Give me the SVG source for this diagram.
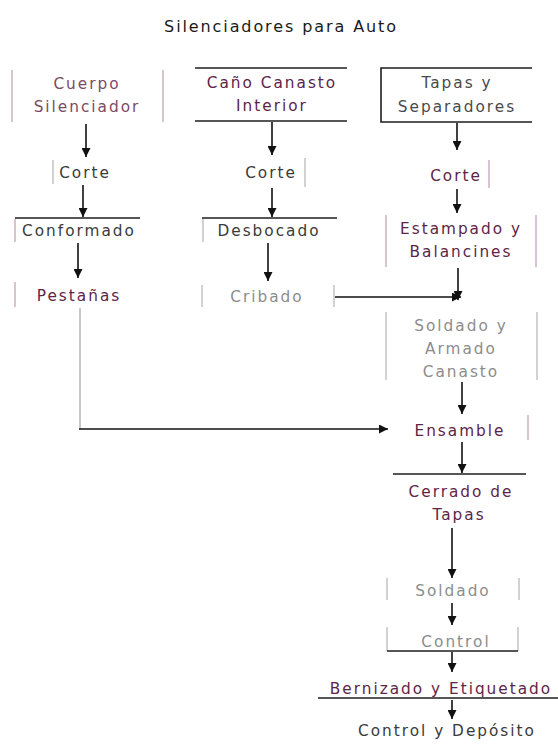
<svg xmlns="http://www.w3.org/2000/svg" width="558" height="744" viewBox="0 0 558 744">
  <defs>
    <marker id="arrow" viewBox="0 0 10 10" refX="10" refY="5" markerWidth="9" markerHeight="9" markerUnits="userSpaceOnUse" orient="auto">
      <path d="M0,0 L10,5 L0,10 z" fill="#111"/>
    </marker>
    <style>
      text { font-family: "DejaVu Sans", Verdana, sans-serif; font-size: 15.3px; letter-spacing: 2px; text-anchor: middle; }
      .title { fill: #1a1a1a; font-size: 16px; letter-spacing: 1.9px; }
      .dark { fill: #3a3a3a; }
      .mid { fill: #4a4a4a; }
      .maroon { fill: #5e2446; }
      .pink { fill: #7a4a62; }
      .gray { fill: #8c8c8c; }
      .bar-p { stroke: #d9c3cf; stroke-width: 2; fill: none; }
      .bar-g { stroke: #d2d2d2; stroke-width: 2; fill: none; }
      .rule { stroke: #1e1e1e; stroke-width: 1.6; fill: none; }
      .conn { stroke: #111; stroke-width: 1.6; fill: none; }
      .conn-g { stroke: #c8c8c8; stroke-width: 2; fill: none; }
    </style>
  </defs>
  <rect width="558" height="744" fill="#ffffff"/>

  <text id="title" class="title" x="281" y="32">Silenciadores para Auto</text>

  <!-- left column -->
  <g id="n-cuerpo">
    <line class="bar-p" x1="12" y1="70" x2="12" y2="122"/>
    <line class="bar-p" x1="163" y1="70" x2="163" y2="122"/>
    <text class="pink" x="87" y="89">Cuerpo</text>
    <text class="pink" x="87" y="112">Silenciador</text>
  </g>
  <g id="n-corte-1">
    <line class="bar-g" x1="53" y1="160" x2="53" y2="184"/>
    <text class="dark" x="85" y="178">Corte</text>
  </g>
  <g id="n-conformado">
    <line class="rule" x1="15" y1="218" x2="140" y2="218"/>
    <line class="bar-p" x1="15" y1="219" x2="15" y2="242"/>
    <text class="dark" x="79" y="236">Conformado</text>
  </g>
  <g id="n-pestanas">
    <line class="bar-p" x1="15" y1="282" x2="15" y2="307"/>
    <text class="maroon" x="79" y="301">Pestañas</text>
  </g>

  <!-- middle column -->
  <g id="n-cano">
    <line class="rule" x1="195" y1="68" x2="347" y2="68"/>
    <line class="rule" x1="195" y1="121" x2="347" y2="121"/>
    <text class="maroon" x="272" y="88">Caño Canasto</text>
    <text class="maroon" x="272" y="111">Interior</text>
  </g>
  <g id="n-corte-2">
    <line class="bar-g" x1="305" y1="158" x2="305" y2="187"/>
    <text class="dark" x="271" y="178">Corte</text>
  </g>
  <g id="n-desbocado">
    <line class="rule" x1="202" y1="218" x2="337" y2="218"/>
    <line class="bar-g" x1="203" y1="219" x2="203" y2="242"/>
    <text class="dark" x="269" y="236">Desbocado</text>
  </g>
  <g id="n-cribado">
    <line class="bar-g" x1="202" y1="285" x2="202" y2="307"/>
    <line class="bar-g" x1="334" y1="285" x2="334" y2="307"/>
    <text class="gray" x="267" y="302">Cribado</text>
  </g>

  <!-- right column -->
  <g id="n-tapas">
    <path class="rule" d="M532,68 H381 V122 H532" stroke-width="1.3"/>
    <text class="mid" x="457" y="88">Tapas y</text>
    <text class="mid" x="457" y="112">Separadores</text>
  </g>
  <g id="n-corte-3">
    <line class="bar-p" x1="489" y1="160" x2="489" y2="188"/>
    <text class="maroon" x="456" y="181">Corte</text>
  </g>
  <g id="n-estampado">
    <line class="bar-p" x1="386" y1="215" x2="386" y2="267"/>
    <line class="bar-p" x1="536" y1="215" x2="536" y2="267"/>
    <text class="maroon" x="461" y="234">Estampado y</text>
    <text class="maroon" x="461" y="257">Balancines</text>
  </g>
  <g id="n-soldado-armado">
    <line class="bar-g" x1="386" y1="312" x2="386" y2="380"/>
    <line class="bar-g" x1="537" y1="312" x2="537" y2="380"/>
    <text class="gray" x="461" y="331">Soldado y</text>
    <text class="gray" x="461" y="354">Armado</text>
    <text class="gray" x="461" y="377">Canasto</text>
  </g>
  <g id="n-ensamble">
    <line class="bar-p" x1="528" y1="415" x2="528" y2="440"/>
    <text class="maroon" x="460" y="436">Ensamble</text>
  </g>
  <g id="n-cerrado">
    <line class="rule" x1="393" y1="474" x2="526" y2="474"/>
    <text class="maroon" x="461" y="497">Cerrado de</text>
    <text class="maroon" x="459" y="520">Tapas</text>
  </g>
  <g id="n-soldado">
    <line class="bar-g" x1="387" y1="578" x2="387" y2="600"/>
    <line class="bar-g" x1="519" y1="578" x2="519" y2="600"/>
    <text class="gray" x="453" y="596">Soldado</text>
  </g>
  <g id="n-control">
    <line class="bar-g" x1="387" y1="627" x2="387" y2="651"/>
    <line class="bar-g" x1="518" y1="627" x2="518" y2="651"/>
    <line class="rule" x1="387" y1="651" x2="518" y2="651"/>
    <text class="gray" x="456" y="647">Control</text>
  </g>
  <g id="n-bernizado">
    <text class="maroon" x="441" y="694">Bernizado y Etiquetado</text>
    <line class="rule" x1="318" y1="698" x2="558" y2="698"/>
  </g>
  <g id="n-deposito">
    <text class="dark" x="447" y="736">Control y Depósito</text>
  </g>

  <!-- connectors -->
  <g id="connectors">
    <line class="conn" x1="86" y1="124" x2="86" y2="157" marker-end="url(#arrow)"/>
    <line class="conn" x1="83" y1="185" x2="83" y2="217" marker-end="url(#arrow)"/>
    <line class="conn" x1="78" y1="243" x2="78" y2="278" marker-end="url(#arrow)"/>
    <line class="conn-g" x1="80" y1="308" x2="80" y2="429"/>
    <line class="conn" x1="79" y1="429" x2="388" y2="429" marker-end="url(#arrow)"/>

    <line class="conn" x1="272" y1="122" x2="272" y2="155" marker-end="url(#arrow)"/>
    <line class="conn" x1="272" y1="188" x2="272" y2="217" marker-end="url(#arrow)"/>
    <line class="conn" x1="268" y1="243" x2="268" y2="281" marker-end="url(#arrow)"/>
    <line class="conn" x1="335" y1="297" x2="461" y2="297" marker-end="url(#arrow)"/>

    <line class="conn" x1="457" y1="123" x2="457" y2="150" marker-end="url(#arrow)"/>
    <line class="conn" x1="457" y1="189" x2="457" y2="213" marker-end="url(#arrow)"/>
    <line class="conn" x1="458" y1="268" x2="458" y2="300" marker-end="url(#arrow)"/>
    <line class="conn" x1="462" y1="382" x2="462" y2="414" marker-end="url(#arrow)"/>
    <line class="conn" x1="462" y1="442" x2="462" y2="473" marker-end="url(#arrow)"/>
    <line class="conn" x1="452" y1="528" x2="452" y2="578" marker-end="url(#arrow)"/>
    <line class="conn" x1="452" y1="603" x2="452" y2="625" marker-end="url(#arrow)"/>
    <line class="conn" x1="452" y1="652" x2="452" y2="672" marker-end="url(#arrow)"/>
    <line class="conn" x1="452" y1="700" x2="452" y2="719" marker-end="url(#arrow)"/>
  </g>
</svg>
